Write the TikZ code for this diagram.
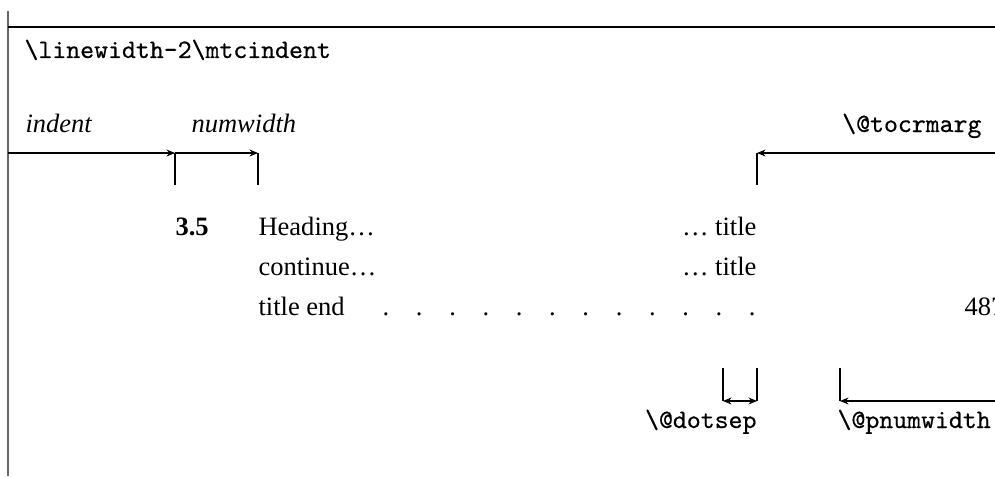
\documentclass[tikz,border=0pt]{standalone}
\usepackage{fontspec}
\setmainfont{Liberation Serif}
\setmonofont{Latin Modern Mono}[FakeBold=0.5]
\usepackage{tikz}
\usetikzlibrary{arrows.meta, positioning, calc}

\begin{document}
\begin{tikzpicture}[
    x=0.377pt, y=-0.377pt,
    txt/.style={inner sep=0pt, font=\normalsize},
    ttxt/.style={inner sep=0pt, font=\ttfamily},
    itxt/.style={inner sep=0pt, font=\itshape},
    dim/.style={-{Stealth[length=3.2pt, width=2.6pt]}, line width=0.4pt, draw=black},
    dimboth/.style={{Stealth[length=3.2pt, width=2.6pt]}-{Stealth[length=3.2pt, width=2.6pt]}, line width=0.4pt, draw=black},
    tick/.style={line width=0.4pt, draw=black}
]
\useasboundingbox (0,0) rectangle (995,476);
\clip (0,0) rectangle (995,476);

% Frame: left margin and top rule
\coordinate (frtop) at (8,11);
\coordinate (frbot) at (8,476);
\coordinate (rulel) at (8,27);
\coordinate (ruler) at (995,27);
\draw[line width=0.6pt, draw=black!60] (frtop) -- (frbot);
\draw[tick] (rulel) -- (ruler);

% Width label
\node[ttxt, anchor=base west] (lw) at (24,58) {\textbackslash linewidth-2\textbackslash mtcindent};

% Top dimension labels
\node[itxt, anchor=base west] (indent) at (25,133) {indent};
\node[itxt, anchor=base west] (numw) at (191,133) {numwidth};
\node[ttxt, anchor=base east] (rmarg) at (982,132) {\textbackslash @tocrmarg};

% Top dimension arrows and ticks
\coordinate (a0) at (8,153);
\coordinate (a1) at (175,153);
\coordinate (a1b) at (175,185);
\coordinate (a2) at (258,153);
\coordinate (a2b) at (258,185);
\coordinate (a3) at (757,153);
\coordinate (a3b) at (757,185);
\coordinate (aR) at (995,153);
\draw[dim] (a0) -- (a1);
\draw[tick] (a1) -- (a1b);
\draw[dim] (a1) -- (a2);
\draw[tick] (a2) -- (a2b);
\draw[dim] (aR) -- (a3);
\draw[tick] (a3) -- (a3b);

% Entry lines
\node[txt, anchor=base west, font=\bfseries] (num) at (175,235) {3.5};
\node[txt, anchor=base west] (head) at (258,235) {Heading\ldots};
\node[txt, anchor=base east] (t1) at (757,235) {\ldots\ title};
\node[txt, anchor=base west] (cont) at (258,275) {continue\ldots};
\node[txt, anchor=base east] (t2) at (757,275) {\ldots\ title};
\node[txt, anchor=base west] (tend) at (258,315) {title end};
\foreach \i in {0,...,11}
    \node[txt, anchor=base] (dot\i) at ({386+33.3*\i},315) {.};
\node[txt, anchor=base west] (page) at (964,315) {487};

% Bottom dimension ticks and arrows
\coordinate (b1) at (723,368);
\coordinate (b1b) at (723,401);
\coordinate (b2) at (757,368);
\coordinate (b2b) at (757,401);
\coordinate (b3) at (840,368);
\coordinate (b3b) at (840,401);
\coordinate (bR) at (995,401);
\draw[tick] (b1) -- (b1b);
\draw[tick] (b2) -- (b2b);
\draw[dimboth] (b1b) -- (b2b);
\draw[tick] (b3) -- (b3b);
\draw[dim] (bR) -- (b3b);

% Bottom dimension labels
\node[ttxt, anchor=base east] (dsep) at (757,428) {\textbackslash @dotsep};
\node[ttxt, anchor=base west] (pnum) at (837,428) {\textbackslash @pnumwidth};

\end{tikzpicture}
\end{document}
